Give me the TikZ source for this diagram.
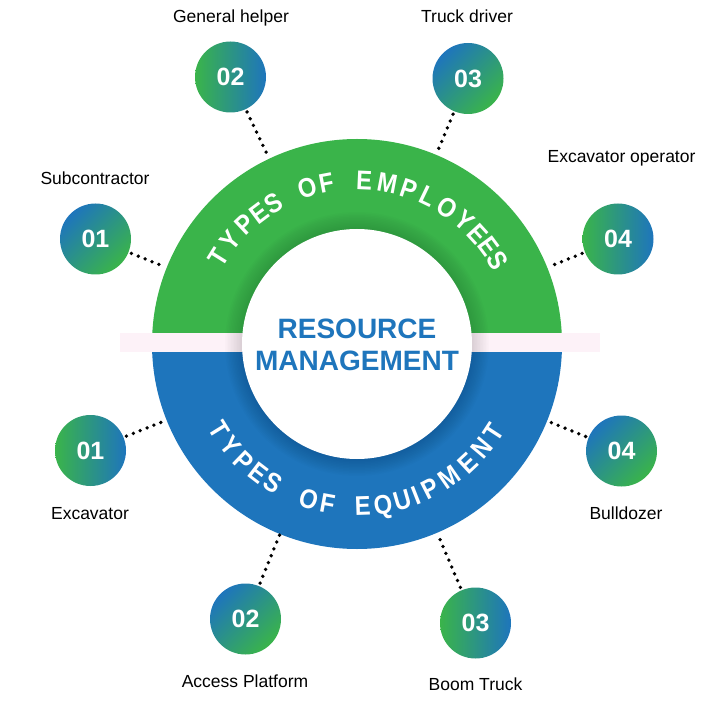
\documentclass[tikz,border=0pt]{standalone}
\usepackage{fontspec}
\setmainfont{Liberation Sans}
\newfontfamily\arcfont[FakeStretch=0.88]{Liberation Sans}
\definecolor{grn}{RGB}{58,180,74}
\definecolor{blu}{RGB}{30,117,188}
\definecolor{bandc}{RGB}{253,242,248}
\tikzset{
  badgeH/.style={circle, minimum size=71pt, inner sep=0pt, left color=grn, right color=blu, text=white, font=\bfseries\fontsize{25}{25}\selectfont},
  badgeD/.style={circle, minimum size=71pt, inner sep=0pt, top color=blu, bottom color=grn, shading angle=45, text=white, font=\bfseries\fontsize{25}{25}\selectfont},
  lbl/.style={anchor=base, inner sep=0pt, text=black, font=\fontsize{17.5}{18}\selectfont},
  dotline/.style={line width=3.8pt, line cap=round, dash pattern=on 0pt off 7.4pt, shorten <=3pt, shorten >=1pt},
  arcletter/.style={text=white, font=\arcfont\bfseries\fontsize{27}{27}\selectfont, inner sep=0pt, text height=19.5pt, text depth=0pt, anchor=center},
  title/.style={anchor=base, inner sep=0pt, text=blu, font=\bfseries\fontsize{28}{28}\selectfont}
}
\begin{document}
\begin{tikzpicture}[x=1pt,y=1pt]
\useasboundingbox (0,0) rectangle (719,702);
\coordinate (C) at (357,358);
% ring
\node[circle, minimum size=410pt, inner sep=0pt] (ring) at (C) {};
\fill[grn] ([shift={(0:205)}]C) arc (0:180:205) -- cycle;
\fill[blu] ([shift={(180:205)}]C) arc (180:360:205) -- cycle;
\fill[bandc] (120,350) rectangle (600,369);
\foreach \k in {1,...,12} \fill[black, opacity=0.013] (C) circle ({114+\k*1.5});
\fill[white] (C) circle (115);
% title
\node[title] (t1) at (357,363) {RESOURCE};
\node[title] (t2) at (357,332) {MANAGEMENT};
% curved text top
\foreach \a/\l [count=\i] in {148/T,140.5/Y,133.2/P,126.8/E,120.8/S,107.5/O,100.8/F,87.5/E,79.3/M,71.3/P,64.2/L,56.5/O,49/Y,42.3/E,36.5/E,30.8/S}
  \node[arcletter, rotate=\a-90] (u\i) at ([shift={(\a:164)}]C) {\l};
% curved text bottom
\foreach \a/\l [count=\i] in {-148.3/T,-141/Y,-134/P,-127.5/E,-121.3/S,-107/O,-100.5/F,-88/E,-80.8/Q,-73.8/U,-68.5/I,-63/P,-55.3/M,-47/E,-40/N,-33/T}
  \node[arcletter, rotate=\a+90] (d\i) at ([shift={(\a:162)}]C) {\l};
% badges top
\node[badgeD] (a1) at (95.5,463) {01};
\node[badgeH] (a2) at (230.5,625) {02};
\node[badgeD] (a3) at (468,623.5) {03};
\node[badgeH] (a4) at (618,463) {04};
% badges bottom
\node[badgeH] (b1) at (90.5,251.5) {01};
\node[badgeD] (b2) at (245.5,83) {02};
\node[badgeH] (b3) at (475.5,79) {03};
\node[badgeD] (b4) at (621.5,251) {04};
% connectors
\foreach \n in {a1,a2,a3,a4,b1,b2,b3,b4}
  \draw[dotline] (\n) -- (ring);
% labels
\node[lbl] (la1) at (95,517) {Subcontractor};
\node[lbl] (la2) at (231,679) {General helper};
\node[lbl] (la3) at (467,679) {Truck driver};
\node[lbl] (la4) at (621.5,539) {Excavator operator};
\node[lbl] (lb1) at (90,183) {Excavator};
\node[lbl] (lb2) at (245,15) {Access Platform};
\node[lbl] (lb3) at (475.5,12) {Boom Truck};
\node[lbl] (lb4) at (626,183) {Bulldozer};
\end{tikzpicture}
\end{document}
